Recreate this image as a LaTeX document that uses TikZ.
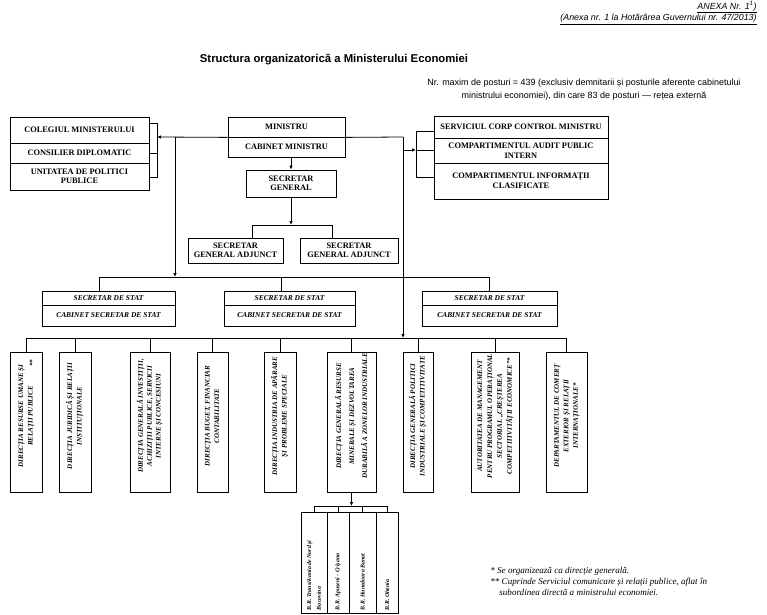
\documentclass[tikz,border=0pt]{standalone}
\usepackage{fontspec}
\setmainfont{Liberation Serif}
\setsansfont{Liberation Sans}
\usepackage{graphicx}
\usetikzlibrary{arrows.meta}
\newcommand{\vlabel}[2][9.5]{\rotatebox{90}{\hspace*{12bp}\fontsize{7}{#1}\selectfont\begin{tabular}{@{}c@{}}#2\end{tabular}}}
\newcommand{\brlabel}[1]{\rotatebox{90}{\fontsize{5.9}{10}\selectfont\parbox{95bp}{\raggedright #1}}}
\tikzset{
  frame/.style={draw, inner sep=0pt},
  hbox/.style={frame, align=center, font=\fontsize{8.4}{9.5}\selectfont\bfseries},
  sbox/.style={hbox, font=\fontsize{7.5}{9}\selectfont\bfseries\itshape},
  vbox/.style={frame, font=\bfseries\itshape},
  bbox/.style={frame, font=\bfseries\itshape},
  arr/.style={-{Latex[length=4bp,width=3.5bp]}},
}

\begin{document}
\begin{tikzpicture}[x=1bp, y=-1bp, line width=0.8bp]
		%%%%% START %%%%%
		\useasboundingbox (0,0) rectangle (767,615);
		
		\node[anchor=east, inner sep=0, font=\sffamily\itshape\fontsize{8.9}{10}\selectfont] (anexa) at (757,7) {\underline{ANEXA Nr. 1\textsuperscript{1})}};
		\node[anchor=east, inner sep=0, font=\sffamily\itshape\fontsize{8.9}{10}\selectfont] (hg) at (757,19.5) {\underline{(Anexa nr. 1 la Hotărârea Guvernului nr. 47/2013)}};
		\node[inner sep=0, font=\sffamily\bfseries\fontsize{11.4}{13}\selectfont] (titlu) at (334,60) {Structura organizatorică a Ministerului Economiei};
		\node[inner sep=0, align=center, font=\sffamily\fontsize{9}{13}\selectfont] (posturi) at (584,89.5) {Nr. maxim de posturi = 439 (exclusiv demnitarii și posturile aferente cabinetului\\ministrului economiei), din care 83 de posturi — rețea externă};
		
		% conducere
		\node[hbox, minimum width=139bp, minimum height=26bp] (colegiu) at (79.5,130) {COLEGIUL MINISTERULUI};
		\node[hbox, minimum width=139bp, minimum height=20bp] (consilier) at (79.5,153) {CONSILIER DIPLOMATIC};
		\node[hbox, minimum width=139bp, minimum height=27bp] (unitate) at (79.5,176.5) {UNITATEA DE POLITICI\\PUBLICE};
		
		\node[hbox, minimum width=117bp, minimum height=20bp] (ministru) at (286.5,127) {MINISTRU};
		\node[hbox, minimum width=117bp, minimum height=20bp] (cabinet) at (286.5,147) {CABINET MINISTRU};
		
		\node[hbox, minimum width=174bp, minimum height=22bp] (corp) at (521,127) {SERVICIUL CORP CONTROL MINISTRU};
		\node[hbox, minimum width=174bp, minimum height=25bp] (audit) at (521,150.5) {COMPARTIMENTUL AUDIT PUBLIC\\INTERN};
		\node[hbox, minimum width=174bp, minimum height=36bp] (informatii) at (521,181) {COMPARTIMENTUL INFORMAȚII\\CLASIFICATE};
		
		\node[hbox, minimum width=90bp, minimum height=27bp] (sg) at (291,183.5) {SECRETAR\\GENERAL};
		\node[hbox, minimum width=95bp, minimum height=25bp] (sga1) at (235.5,250.5) {SECRETAR\\GENERAL ADJUNCT};
		\node[hbox, minimum width=98bp, minimum height=25bp] (sga2) at (349,250.5) {SECRETAR\\GENERAL ADJUNCT};
		
		% secretari de stat
		\node[sbox, minimum width=133bp, minimum height=14bp] (ss1) at (108.5,298) {SECRETAR DE STAT};
		\node[sbox, minimum width=133bp, minimum height=21bp] (cs1) at (108.5,315.5) {CABINET SECRETAR DE STAT};
		\node[sbox, minimum width=131bp, minimum height=14bp] (ss2) at (289.5,298) {SECRETAR DE STAT};
		\node[sbox, minimum width=131bp, minimum height=21bp] (cs2) at (289.5,315.5) {CABINET SECRETAR DE STAT};
		\node[sbox, minimum width=135bp, minimum height=14bp] (ss3) at (489.5,298) {SECRETAR DE STAT};
		\node[sbox, minimum width=135bp, minimum height=21bp] (cs3) at (489.5,315.5) {CABINET SECRETAR DE STAT};
		
		% directii
		\node[vbox, minimum width=32bp, minimum height=140bp] (d1) at (26,422) {\vlabel{DIRECȚIA RESURSE UMANE ȘI\\RELAȚII PUBLICE}};
		\node[rotate=90, inner sep=0, font=\bfseries\itshape\fontsize{7}{8}\selectfont] (d1note) at (32,363) {**};
		\node[vbox, minimum width=32bp, minimum height=140bp] (d2) at (75,422) {\vlabel{DIRECȚIA JURIDICĂ ȘI RELAȚII\\INSTITUȚIONALE}};
		\node[vbox, minimum width=40bp, minimum height=140bp] (d3) at (150,422) {\vlabel[8.8]{DIRECȚIA GENERALĂ INVESTIȚII,\\ACHIZIȚII PUBLICE, SERVICII\\INTERNE ȘI CONCESIUNI}};
		\node[vbox, minimum width=31bp, minimum height=140bp] (d4) at (212.5,422) {\vlabel{DIRECȚIA BUGET, FINANCIAR\\CONTABILITATE}};
		\node[vbox, minimum width=32bp, minimum height=140bp] (d5) at (280,422) {\vlabel{DIRECȚIA INDUSTRIA DE APĂRARE\\ȘI PROBLEME SPECIALE}};
		\node[vbox, minimum width=49bp, minimum height=140bp] (d6) at (351.5,422) {\vlabel[13]{DIRECȚIA GENERALĂ RESURSE\\MINERALE ȘI DEZVOLTAREA\\DURABILĂ A ZONELOR INDUSTRIALE}};
		\node[vbox, minimum width=30bp, minimum height=140bp] (d7) at (418,422) {\vlabel{DIRECȚIA GENERALĂ POLITICI\\INDUSTRIALE ȘI COMPETITIVITATE}};
		\node[vbox, minimum width=48bp, minimum height=140bp] (d8) at (495,422) {\vlabel[10]{AUTORITATEA DE MANAGEMENT\\PENTRU PROGRAMUL OPERAȚIONAL\\SECTORIAL „CREȘTEREA\\COMPETITIVITĂȚII ECONOMICE”*}};
		\node[vbox, minimum width=41bp, minimum height=140bp] (d9) at (566.5,422) {\vlabel{DEPARTAMENTUL DE COMERȚ\\EXTERIOR ȘI RELAȚII\\INTERNAȚIONALE*}};
		
		% birouri regionale
		\node[bbox, minimum width=26bp, minimum height=101bp] (b1) at (314,562.5) {\brlabel{B.R. Transilvania de Nord și\\Bucovina}};
		\node[bbox, minimum width=22bp, minimum height=101bp] (b2) at (338,562.5) {\brlabel{B.R. Apuseni - Crișana}};
		\node[bbox, minimum width=27bp, minimum height=101bp] (b3) at (362.5,562.5) {\brlabel{B.R. Hunedoara Banat}};
		\node[bbox, minimum width=22bp, minimum height=101bp] (b4) at (387,562.5) {\brlabel{B.R. Oltenia}};
		
		\node[anchor=north west, inner sep=0, align=left, font=\itshape\fontsize{9.1}{11}\selectfont] (note) at (490,567) {* Se organizează ca direcție generală.\\** Cuprinde Serviciul comunicare și relații publice, aflat în\\\hspace*{9bp}subordinea directă a ministrului economiei.};
		
		% legaturi
		\coordinate (lbrT) at (157,123);
		\coordinate (lbrB) at (157,177);
		\coordinate (lbrM) at (157,137);
		\draw (lbrT -| colegiu.east) -- (lbrT) -- (lbrB) -- (lbrB -| unitate.east);
		\draw (consilier.east) -- (consilier.east -| lbrT);
		\draw[arr] (ministru.south west) -- (lbrM);
		
		\coordinate (lv) at (175,137);
		\coordinate (ssbus) at (0,277);
		\draw[arr] (lv) -- (lv |- ssbus);
		\draw ([xshift=-9bp]ss1.north) |- (ss3.north |- ssbus) -- (ss3.north);
		\draw ([xshift=-8bp]ss2.north) -- ([xshift=-8bp]ss2.north |- ssbus);
		
		\coordinate (rv) at (403,137);
		\coordinate (rbrT) at (416,131);
		\coordinate (rbrB) at (416,177);
		\coordinate (rbrM) at (416,150);
		\coordinate (dbus) at (0,338);
		\draw (ministru.south east) -- (rv);
		\draw[arr] (rv) -- (rv |- dbus);
		\draw[arr] (rv |- rbrM) -- (rbrM);
		\draw (rbrT -| corp.west) -- (rbrT) -- (rbrB) -- (rbrB -| informatii.west);
		\draw (audit.west) -- (audit.west -| rbrT);
		
		\draw[arr] (cabinet.south -| sg.north) -- (sg.north);
		\coordinate (sgL) at (252,225);
		\coordinate (sgR) at (332,225);
		\draw[arr] (sg.south) -- (sg.south |- sgL);
		\draw (sgL |- sga1.north) -- (sgL) -- (sgR) -- (sgR |- sga2.north);
		
		\draw (d1.north) |- (d9.north |- dbus) -- (d9.north);
		\foreach \n in {d2,d3,d4,d5,d6,d7,d8} \draw (\n.north) -- (\n.north |- dbus);
		
		\coordinate (bbus) at (0,506);
		\draw[arr] (d6.south) -- (d6.south |- bbus);
		\draw (b1.north) |- (b4.north |- bbus) -- (b4.north);
		\foreach \n in {b2,b3} \draw (\n.north) -- (\n.north |- bbus);
		
		%%%%% END %%%%%
\end{tikzpicture}
\end{document}
